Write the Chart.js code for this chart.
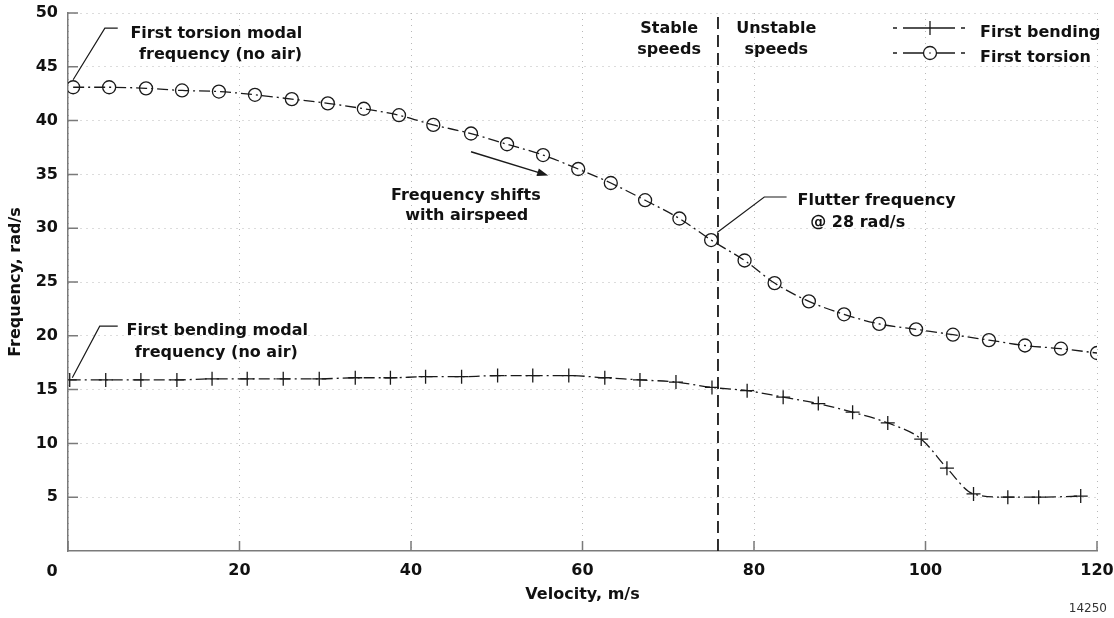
<!DOCTYPE html>
<html>
<head>
    <title>Flutter - frequency vs velocity</title>
    <script src="https://cdn.jsdelivr.net/npm/chart.js"></script>
    <style>
        html, body {
            margin: 0;
            padding: 0;
            background: #fff;
        }
    </style>
</head>
<body>
    <canvas id="flutterChart" width="1114" height="618"></canvas>

    <script>
        // values
        const bendingVel = [0.2, 4.4, 8.5, 12.7, 16.8, 20.9, 25.1, 29.3, 33.5, 37.6,
                            41.7, 45.9, 50.1, 54.2, 58.4, 62.6, 66.7, 70.9, 75.1, 79.2,
                            83.4, 87.5, 91.5, 95.6, 99.5, 102.5, 105.6, 109.6, 113.2, 118.1];
        const bendingFreq = [15.9, 15.9, 15.9, 15.9, 16.0, 16.0, 16.0, 16.0, 16.1, 16.1,
                             16.2, 16.2, 16.3, 16.3, 16.3, 16.1, 15.9, 15.7, 15.2, 14.9,
                             14.3, 13.7, 12.9, 11.9, 10.4, 7.7, 5.3, 5.0, 5.0, 5.1];

        const torsionVel = [0.6, 4.8, 9.1, 13.3, 17.6, 21.8, 26.1, 30.3, 34.5, 38.6,
                            42.6, 47.0, 51.2, 55.4, 59.5, 63.3, 67.3, 71.3, 75.0, 78.9,
                            82.4, 86.4, 90.5, 94.6, 98.9, 103.2, 107.4, 111.6, 115.8, 120.0];
        const torsionFreq = [43.1, 43.1, 43.0, 42.8, 42.7, 42.4, 42.0, 41.6, 41.1, 40.5,
                             39.6, 38.8, 37.8, 36.8, 35.5, 34.2, 32.6, 30.9, 28.9, 27.0,
                             24.9, 23.2, 22.0, 21.1, 20.6, 20.1, 19.6, 19.1, 18.8, 18.4];

        const flutterVel = 75.8;
        const xTicks = [0, 20, 40, 60, 80, 100, 120];
        const yTicks = [5, 10, 15, 20, 25, 30, 35, 40, 45, 50];

        const seriesNames = ['First bending', 'First torsion'];

        // text notes, placed in data units (x = m/s, y = rad/s)
        const notes = [
            { x: 17.3, y: 47.7, text: 'First torsion modal' },
            { x: 17.8, y: 45.7, text: 'frequency (no air)' },
            { x: 17.4, y: 20.1, text: 'First bending modal' },
            { x: 17.3, y: 18.0, text: 'frequency (no air)' },
            { x: 46.4, y: 32.6, text: 'Frequency shifts' },
            { x: 46.5, y: 30.8, text: 'with airspeed' },
            { x: 94.3, y: 32.2, text: 'Flutter frequency' },
            { x: 92.1, y: 30.1, text: '@ 28 rad/s' },
            { x: 70.1, y: 48.1, text: 'Stable' },
            { x: 70.1, y: 46.2, text: 'speeds' },
            { x: 82.6, y: 48.1, text: 'Unstable' },
            { x: 82.6, y: 46.2, text: 'speeds' }
        ];
        const leaders = [
            [[0.6, 43.8], [4.3, 48.6], [5.8, 48.6]],
            [[0.5, 16.1], [3.7, 20.9], [5.8, 20.9]],
            [[75.7, 29.6], [81.2, 32.9], [83.8, 32.9]]
        ];
        const arrow = [[47.0, 37.1], [56.0, 34.9]];

        const ink = '#1a1a1a';
        const axisGray = '#7a7a7a';
        const fontFamily = '"DejaVu Sans", Verdana, sans-serif';

        Chart.defaults.font.family = fontFamily;
        Chart.defaults.font.size = 16;
        Chart.defaults.font.weight = 'bold';
        Chart.defaults.color = '#111';

        function pairs(xs, ys) {
            return xs.map((x, i) => ({ x: x, y: ys[i] }));
        }

        const annotate = {
            id: 'annotate',
            afterDraw(chart) {
                const ctx = chart.ctx;
                const xs = chart.scales.x, ys = chart.scales.y;
                const area = chart.chartArea;
                const px = v => xs.getPixelForValue(v);
                const py = v => ys.getPixelForValue(v);

                ctx.save();
                // inward tick marks
                ctx.strokeStyle = axisGray;
                ctx.lineWidth = 1.5;
                ctx.beginPath();
                xTicks.forEach(v => {
                    ctx.moveTo(px(v), area.bottom);
                    ctx.lineTo(px(v), area.bottom - 10);
                });
                yTicks.forEach(v => {
                    ctx.moveTo(area.left, py(v));
                    ctx.lineTo(area.left + 10, py(v));
                });
                ctx.stroke();

                // the origin label sits left of the axis in the original
                ctx.font = 'bold 16px ' + fontFamily;
                ctx.fillStyle = '#111';
                ctx.textAlign = 'center';
                ctx.textBaseline = 'middle';
                ctx.fillText(String(xTicks[0]), px(xTicks[0]) - 16, area.bottom + 21);

                // leader lines
                ctx.strokeStyle = ink;
                ctx.lineWidth = 1.2;
                leaders.forEach(l => {
                    ctx.beginPath();
                    l.forEach((p, i) => {
                        if (i === 0) ctx.moveTo(px(p[0]), py(p[1]));
                        else ctx.lineTo(px(p[0]), py(p[1]));
                    });
                    ctx.stroke();
                });

                // arrow
                const ax0 = px(arrow[0][0]), ay0 = py(arrow[0][1]);
                const ax1 = px(arrow[1][0]), ay1 = py(arrow[1][1]);
                const ang = Math.atan2(ay1 - ay0, ax1 - ax0);
                ctx.lineWidth = 1.5;
                ctx.beginPath();
                ctx.moveTo(ax0, ay0);
                ctx.lineTo(ax1 - 8 * Math.cos(ang), ay1 - 8 * Math.sin(ang));
                ctx.stroke();
                ctx.fillStyle = ink;
                ctx.beginPath();
                ctx.moveTo(ax1, ay1);
                ctx.lineTo(ax1 - 11 * Math.cos(ang) + 4 * Math.sin(ang), ay1 - 11 * Math.sin(ang) - 4 * Math.cos(ang));
                ctx.lineTo(ax1 - 11 * Math.cos(ang) - 4 * Math.sin(ang), ay1 - 11 * Math.sin(ang) + 4 * Math.cos(ang));
                ctx.closePath();
                ctx.fill();

                // notes
                ctx.fillStyle = '#111';
                ctx.textAlign = 'center';
                ctx.textBaseline = 'alphabetic';
                notes.forEach(n => ctx.fillText(n.text, px(n.x), py(n.y)));

                // legend, top right inside the plot
                const lx = area.right - 204;
                const rows = [area.top + 15, area.top + 40];
                chart.data.datasets.slice(0, 2).forEach((ds, i) => {
                    const y = rows[i];
                    ctx.strokeStyle = ink;
                    ctx.lineWidth = 1.3;
                    ctx.beginPath();
                    [[0, 4], [10, 62], [68, 72]].forEach(s => {
                        ctx.moveTo(lx + s[0], y);
                        ctx.lineTo(lx + s[1], y);
                    });
                    ctx.stroke();
                    const mx = lx + 37;
                    ctx.beginPath();
                    if (ds.pointStyle === 'circle') {
                        ctx.fillStyle = '#fff';
                        ctx.arc(mx, y, ds.pointRadius, 0, Math.PI * 2);
                        ctx.fill();
                        ctx.stroke();
                        ctx.beginPath();
                        ctx.arc(mx, y, 0.8, 0, Math.PI * 2);
                        ctx.fillStyle = ink;
                        ctx.fill();
                    } else {
                        ctx.moveTo(mx, y - ds.pointRadius);
                        ctx.lineTo(mx, y + ds.pointRadius);
                        ctx.stroke();
                    }
                    ctx.fillStyle = '#111';
                    ctx.textAlign = 'left';
                    ctx.fillText(ds.label, area.right - 117, y + 9);
                });

                // figure number
                ctx.font = '12px ' + fontFamily;
                ctx.fillStyle = '#333';
                ctx.textAlign = 'right';
                ctx.fillText('14250', chart.width - 7, chart.height - 6);
                ctx.restore();
            }
        };

        const ctx = document.getElementById('flutterChart').getContext('2d');
        const chart = new Chart(ctx, {
            type: 'line',
            data: {
                datasets: [{
                    label: seriesNames[0],
                    data: pairs(bendingVel, bendingFreq),
                    borderColor: ink,
                    borderWidth: 1.3,
                    borderDash: [11, 4, 2, 4],
                    cubicInterpolationMode: 'monotone',
                    pointStyle: 'cross',
                    pointRadius: 7,
                    pointBorderWidth: 1.3,
                    pointBorderColor: ink,
                    fill: false
                },
                {
                    label: seriesNames[1],
                    data: pairs(torsionVel, torsionFreq),
                    borderColor: ink,
                    borderWidth: 1.3,
                    borderDash: [11, 4, 2, 4],
                    cubicInterpolationMode: 'monotone',
                    pointStyle: 'circle',
                    pointRadius: 6.5,
                    pointBorderWidth: 1.3,
                    pointBorderColor: ink,
                    pointBackgroundColor: 'rgba(0,0,0,0)',
                    fill: false
                },
                {
                    label: 'flutter boundary',
                    data: [{ x: flutterVel, y: 0 }, { x: flutterVel, y: 50 }],
                    borderColor: ink,
                    borderWidth: 1.8,
                    borderDash: [12, 6],
                    pointRadius: 0,
                    fill: false
                }]
            },
            options: {
                responsive: false,
                animation: false,
                layout: { padding: { top: 13, right: 17, left: 0, bottom: 0 } },
                plugins: {
                    legend: { display: false },
                    tooltip: { enabled: false }
                },
                scales: {
                    x: {
                        type: 'linear',
                        min: 0,
                        max: 120,
                        afterBuildTicks: s => { s.ticks = xTicks.map(v => ({ value: v })); },
                        afterFit: s => {
                            s.height = 67;
                            s.paddingLeft = 0;
                            s.paddingRight = 0;
                        },
                        ticks: {
                            padding: 10,
                            maxRotation: 0,
                            callback: v => (v === xTicks[0] ? '' : String(v))
                        },
                        grid: { color: '#b8b8b8', lineWidth: 1, drawTicks: false },
                        border: { color: axisGray, width: 1.5, dash: [1, 5] },
                        title: {
                            display: true,
                            text: 'Velocity, m/s',
                            padding: { top: 0, bottom: 14 }
                        }
                    },
                    y: {
                        type: 'linear',
                        min: 0,
                        max: 50,
                        afterBuildTicks: s => { s.ticks = yTicks.map(v => ({ value: v })); },
                        afterFit: s => {
                            s.width = 68;
                            s.paddingTop = 0;
                            s.paddingBottom = 0;
                        },
                        ticks: { padding: 10 },
                        grid: { color: '#b8b8b8', lineWidth: 1, drawTicks: false },
                        border: { color: axisGray, width: 1.5, dash: [1, 5] },
                        title: {
                            display: true,
                            text: 'Frequency, rad/s',
                            padding: { top: 6, bottom: 0 }
                        }
                    }
                }
            },
            plugins: [annotate]
        });
    </script>
</body>
</html>
